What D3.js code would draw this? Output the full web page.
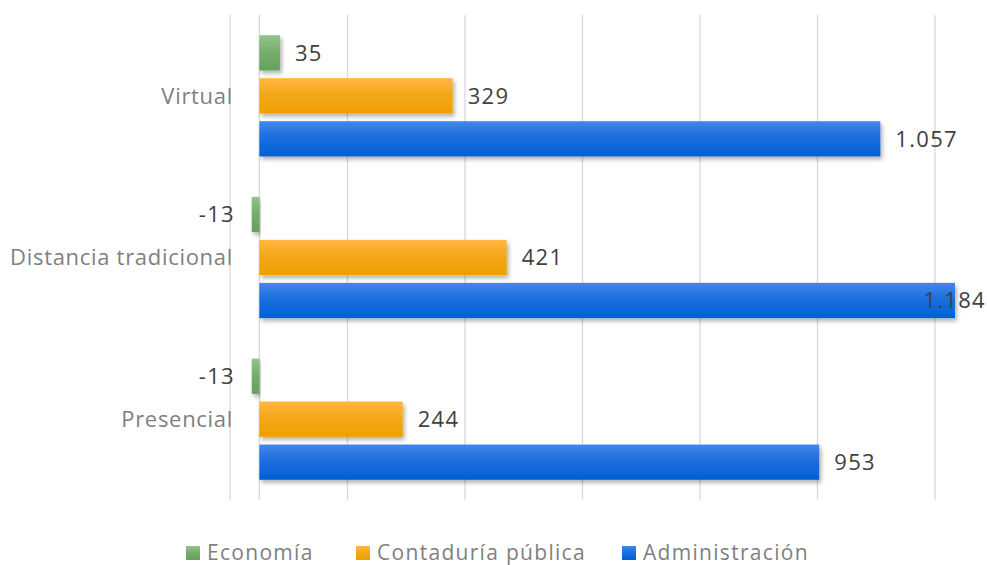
<!DOCTYPE html>
<html><head><meta charset="utf-8">
<script src="https://cdn.jsdelivr.net/npm/d3@7"></script>
<style>body{margin:0;background:#fff}svg{display:block}text{font-family:"Open Sans",sans-serif}</style>
</head><body>
<svg id="c" width="987" height="565"></svg>
<script>
const categories = ["Virtual", "Distancia tradicional", "Presencial"];
const seriesNames = ["Economía", "Contaduría pública", "Administración"];
const economia = [35, -13, -13];
const contaduria = [329, 421, 244];
const administracion = [1057, 1184, 953];
const xTicks = [-50, 150, 350, 550, 750, 950, 1150];
const colors = [["#93c48a", "#64a05c"], ["#ffb740", "#ee9e00"], ["#4486ea", "#005fd6"]];

const values = [economia, contaduria, administracion];
const W = 987, H = 565;
const svg = d3.select("#c");
const loc = d3.formatLocale({decimal: ",", thousands: ".", grouping: [3], currency: ["", ""], minus: "-"});
const fmt = loc.format(",d");

const x = d3.scaleLinear().domain([-50, 1250]).range([230, 993.75]);
const y0 = d3.scaleBand().domain(categories).range([15, 500]).paddingInner(0.25).paddingOuter(0.125);
const y1 = d3.scaleBand().domain(seriesNames).range([0, y0.bandwidth()]).paddingInner(0.18);

const defs = svg.append("defs");
colors.forEach((c, i) => {
  const g = defs.append("linearGradient").attr("id", "g" + i).attr("x1", 0).attr("y1", 0).attr("x2", 0).attr("y2", 1);
  g.append("stop").attr("offset", "0%").attr("stop-color", c[0]);
  g.append("stop").attr("offset", "45%").attr("stop-color", d3.interpolateRgb(c[0], c[1])(0.6));
  g.append("stop").attr("offset", "100%").attr("stop-color", c[1]);
});
const f = defs.append("filter").attr("id", "sh").attr("x", "-10%").attr("y", "-30%").attr("width", "130%").attr("height", "180%");
f.append("feDropShadow").attr("dx", 2).attr("dy", 3).attr("stdDeviation", 2.2).attr("flood-color", "#000").attr("flood-opacity", 0.3);

// gridlines
svg.append("g").selectAll("line").data(xTicks).join("line")
  .attr("x1", d => x(d)).attr("x2", d => x(d)).attr("y1", 15).attr("y2", 500)
  .attr("stroke", "#d9d9d9").attr("stroke-width", 1.3);
// zero axis
svg.append("line").attr("x1", x(0)).attr("x2", x(0)).attr("y1", 15).attr("y2", 500)
  .attr("stroke", "#d9d9d9").attr("stroke-width", 1.3);

// category labels
svg.append("g").selectAll("text").data(categories).join("text")
  .attr("x", 233).attr("y", d => y0(d) + y0.bandwidth() / 2)
  .attr("dy", "0.35em").attr("text-anchor", "end")
  .attr("fill", "#7f7f7f").attr("font-size", 22).attr("letter-spacing", 0.7).text(d => d);

// bars
const rows = [];
categories.forEach((c, ci) => seriesNames.forEach((s, si) => rows.push({c, s, si, v: values[si][ci]})));
svg.append("g").selectAll("rect").data(rows).join("rect")
  .attr("x", d => x(Math.min(0, d.v)))
  .attr("width", d => Math.abs(x(d.v) - x(0)))
  .attr("y", d => y0(d.c) + y1(d.s))
  .attr("height", y1.bandwidth())
  .attr("fill", d => "url(#g" + d.si + ")")
  .attr("filter", "url(#sh)");

// data labels
const lbl = svg.append("g").selectAll("text").data(rows).join("text")
  .attr("y", d => y0(d.c) + y1(d.s) + y1.bandwidth() / 2)
  .attr("dy", "0.35em").attr("fill", "#404040").attr("font-size", 22).attr("letter-spacing", 1.3)
  .text(d => fmt(d.v));
lbl.each(function(d) {
  const t = d3.select(this);
  if (d.v < 0) {
    t.attr("text-anchor", "end").attr("x", 235);
  } else {
    const w = this.getComputedTextLength();
    let xx = x(d.v) + 15;
    if (xx + w > 986) xx = 986 - w;
    t.attr("x", xx);
  }
});

// legend
const legX = [186, 356, 622];
const leg = svg.append("g").selectAll("g").data(seriesNames).join("g")
  .attr("transform", (d, i) => `translate(${legX[i]},553)`);
leg.append("rect").attr("x", 0).attr("y", -7).attr("width", 14).attr("height", 14)
  .attr("fill", (d, i) => "url(#g" + i + ")");
leg.append("text").attr("x", 21).attr("dy", "0.35em").attr("fill", "#7f7f7f")
  .attr("font-size", 21).attr("letter-spacing", 1.3).text(d => d);
</script>
</body></html>
